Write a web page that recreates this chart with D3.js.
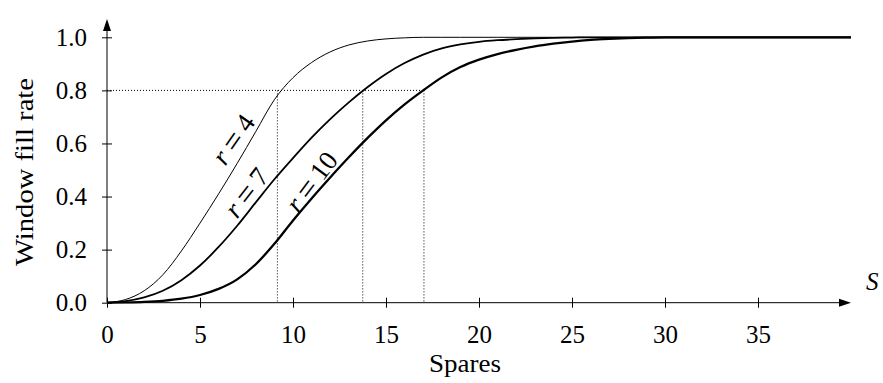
<!DOCTYPE html>
<html>
<head>
<meta charset="utf-8">
<script src="https://cdn.jsdelivr.net/npm/d3@7"></script>
<style>
  html, body { margin: 0; padding: 0; background: #fff; }
  svg { display: block; }
  text { font-family: 'Liberation Serif', 'DejaVu Serif', serif; fill: #000; }
</style>
</head>
<body>
<div id="chart"></div>
<script>
// spares S (x values read at whole numbers)
const spares = d3.range(0, 41);
// window fill rate for each redundancy r
const fillR4 = [0, 0.012, 0.045, 0.105, 0.195, 0.30, 0.41, 0.525, 0.645, 0.765,
  0.848, 0.905, 0.945, 0.971, 0.986, 0.994, 0.998, 1, 1, 1,
  1, 1, 1, 1, 1, 1, 1, 1, 1, 1,
  1, 1, 1, 1, 1, 1, 1, 1, 1, 1, 1];
const fillR7 = [0, 0.006, 0.02, 0.045, 0.085, 0.14, 0.21, 0.29, 0.378, 0.465,
  0.545, 0.622, 0.692, 0.755, 0.812, 0.862, 0.903, 0.935, 0.958, 0.973,
  0.983, 0.989, 0.993, 0.996, 0.998, 0.999, 1, 1, 1, 1,
  1, 1, 1, 1, 1, 1, 1, 1, 1, 1, 1];
const fillR10 = [0, 0.001, 0.003, 0.007, 0.015, 0.029, 0.052, 0.088, 0.145, 0.222,
  0.31, 0.393, 0.472, 0.548, 0.62, 0.687, 0.747, 0.80, 0.849, 0.888,
  0.916, 0.937, 0.953, 0.966, 0.976, 0.984, 0.99, 0.994, 0.997, 0.999,
  1, 1, 1, 1, 1, 1, 1, 1, 1, 1, 1];
const series = [
  { r: 4, values: fillR4, width: 1 },
  { r: 7, values: fillR7, width: 1.8 },
  { r: 10, values: fillR10, width: 2.3 },
];
// where each curve reaches 0.8
const threshold = 0.8;
const crossings = [9.16, 13.75, 17.04];
// curve labels, anchored in data units
const labels = [
  { text: '4', s: 6.8, v: 0.615, angle: -55 },
  { text: '7', s: 7.5, v: 0.415, angle: -52 },
  { text: '10', s: 11.0, v: 0.455, angle: -53 },
];
const xTicks = [0, 5, 10, 15, 20, 25, 30, 35];
const yTicks = [0, 0.2, 0.4, 0.6, 0.8, 1.0];

const svgwidth = 883;
const svgheight = 383;
const svg = d3.select('#chart').append('svg')
  .attr('width', svgwidth)
  .attr('height', svgheight);

const x = d3.scaleLinear().domain([0, 40]).range([107, 851]);
const y = d3.scaleLinear().domain([0, 1]).range([302.7, 37.3]);
const fs = 25;

// dotted guide lines at 0.8
svg.append('line')
  .attr('x1', x(0)).attr('x2', x(d3.max(crossings)))
  .attr('y1', y(threshold)).attr('y2', y(threshold))
  .attr('stroke', '#000').attr('stroke-width', 1)
  .attr('stroke-dasharray', '1,2');
svg.selectAll('.drop')
  .data(crossings)
  .enter()
  .append('line')
  .attr('class', 'drop')
  .attr('x1', d => x(d)).attr('x2', d => x(d))
  .attr('y1', y(threshold)).attr('y2', y(0))
  .attr('stroke', '#000').attr('stroke-width', 1)
  .attr('stroke-dasharray', '1,2');

// curves
const line = d3.line()
  .x((d, i) => x(spares[i]))
  .y(d => y(d))
  .curve(d3.curveMonotoneX);
svg.selectAll('.curve')
  .data(series)
  .enter()
  .append('path')
  .attr('class', 'curve')
  .attr('d', d => line(d.values))
  .attr('fill', 'none')
  .attr('stroke', '#000')
  .attr('stroke-width', d => d.width)
  .attr('stroke-linejoin', 'round');

// x axis
const gx = svg.append('g')
  .attr('transform', `translate(0,${y(0)})`)
  .call(d3.axisBottom(x)
    .tickValues(xTicks)
    .tickFormat(d3.format('d'))
    .tickSizeOuter(0)
    .tickSizeInner(5)
    .tickPadding(17.5));
gx.select('.domain').remove();
gx.selectAll('.tick line').attr('y1', -5).attr('y2', 5).attr('stroke', '#000');
gx.selectAll('.tick text').attr('font-size', fs).attr('font-family', 'Liberation Serif');
svg.append('line')
  .attr('x1', x(0)).attr('x2', x(40) - 10)
  .attr('y1', y(0)).attr('y2', y(0))
  .attr('stroke', '#000').attr('stroke-width', 1);
svg.append('path')
  .attr('d', `M${x(40)},${y(0)} l-12,-4 l0,8 z`)
  .attr('fill', '#000');

// y axis
const gy = svg.append('g')
  .attr('transform', `translate(${x(0)},0)`)
  .call(d3.axisLeft(y)
    .tickValues(yTicks)
    .tickFormat(d3.format('.1f'))
    .tickSizeOuter(0)
    .tickSizeInner(5)
    .tickPadding(15));
gy.select('.domain').remove();
gy.selectAll('.tick line').attr('x1', -5).attr('x2', 5).attr('stroke', '#000');
gy.selectAll('.tick text').attr('font-size', fs).attr('font-family', 'Liberation Serif');
svg.append('line')
  .attr('x1', x(0)).attr('x2', x(0))
  .attr('y1', y(0)).attr('y2', y(1.069) + 10)
  .attr('stroke', '#000').attr('stroke-width', 1);
svg.append('path')
  .attr('d', `M${x(0)},${y(1.069)} l-4,12 l8,0 z`)
  .attr('fill', '#000');

// axis titles
svg.append('text')
  .attr('transform', `translate(33,${(y(0) + y(1)) / 2 + 2}) rotate(-90)`)
  .attr('text-anchor', 'middle')
  .attr('font-size', fs)
  .attr('textLength', 188)
  .attr('lengthAdjust', 'spacingAndGlyphs')
  .text('Window fill rate');
svg.append('text')
  .attr('x', 465)
  .attr('y', 372)
  .attr('text-anchor', 'middle')
  .attr('font-size', fs)
  .attr('textLength', 72)
  .attr('lengthAdjust', 'spacingAndGlyphs')
  .text('Spares');
svg.append('text')
  .attr('x', 866)
  .attr('y', 290)
  .attr('font-size', fs)
  .attr('font-style', 'italic')
  .text('S');

// curve labels
const lab = svg.selectAll('.lab')
  .data(labels)
  .enter()
  .append('text')
  .attr('class', 'lab')
  .attr('transform', d => `translate(${x(d.s)},${y(d.v)}) rotate(${d.angle})`)
  .attr('text-anchor', 'middle')
  .attr('dominant-baseline', 'central')
  .attr('font-size', 27);
lab.append('tspan').attr('font-style', 'italic').text('r');
lab.append('tspan').attr('dx', 6).attr('font-size', 32).text('=');
lab.append('tspan').attr('dx', 6).text(d => d.text);
</script>
</body>
</html>
